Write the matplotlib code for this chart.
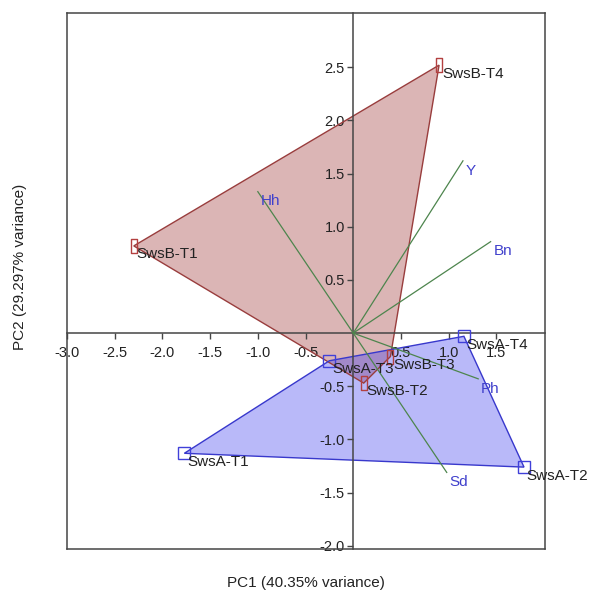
import matplotlib
matplotlib.use("Agg")
import matplotlib.pyplot as plt
import numpy as np
from matplotlib.path import Path
from matplotlib.ticker import FormatStrFormatter

plt.rcParams['font.family'] = ['Liberation Sans', 'DejaVu Sans']
plt.rcParams['axes.unicode_minus'] = False

# ---- data ----
groupB_names = ["SwsB-T1", "SwsB-T2", "SwsB-T3", "SwsB-T4"]
groupB_pc1 = [-2.30, 0.11, 0.39, 0.90]
groupB_pc2 = [0.82, -0.47, -0.22, 2.52]

groupA_names = ["SwsA-T1", "SwsA-T2", "SwsA-T3", "SwsA-T4"]
groupA_pc1 = [-1.77, 1.79, -0.25, 1.16]
groupA_pc2 = [-1.13, -1.26, -0.26, -0.03]

load_names = ["Hh", "Y", "Bn", "Ph", "Sd"]
load_pc1 = [-1.00, 1.15, 1.44, 1.31, 0.98]
load_pc2 = [1.33, 1.62, 0.86, -0.43, -1.31]

xtick_vals = [-3.0, -2.5, -2.0, -1.5, -1.0, -0.5, 0.5, 1.0, 1.5]
ytick_vals = [-2.0, -1.5, -1.0, -0.5, 0.5, 1.0, 1.5, 2.0, 2.5]
xlabel = "PC1 (40.35% variance)"
ylabel = "PC2 (29.297% variance)"


def hull(xs, ys):
    pts = sorted(zip(xs, ys))
    def cross(o, a, b):
        return (a[0]-o[0])*(b[1]-o[1]) - (a[1]-o[1])*(b[0]-o[0])
    lower, upper = [], []
    for p in pts:
        while len(lower) >= 2 and cross(lower[-2], lower[-1], p) <= 0:
            lower.pop()
        lower.append(p)
    for p in reversed(pts):
        while len(upper) >= 2 and cross(upper[-2], upper[-1], p) <= 0:
            upper.pop()
        upper.append(p)
    return np.array(lower[:-1] + upper[:-1])


fig = plt.figure(figsize=(5.89, 5.95), dpi=100)
ax = fig.add_axes([67/589, 1-549/595, (545-67)/589, (549-13)/595])
ax.set_xlim(-3.0, 2.01)
ax.set_ylim(-2.03, 3.01)

red_face = (0.63, 0.24, 0.24)
red_edge = (0.60, 0.24, 0.24)
blue_face = (0.24, 0.24, 0.94)
blue_edge = (0.22, 0.22, 0.80)

hb = hull(groupB_pc1, groupB_pc2)
ax.fill(hb[:, 0], hb[:, 1], facecolor=red_face, alpha=0.38, edgecolor='none', zorder=1)
ax.fill(hb[:, 0], hb[:, 1], facecolor='none', edgecolor=red_edge, lw=1.0, zorder=2)
ha_ = hull(groupA_pc1, groupA_pc2)
ax.fill(ha_[:, 0], ha_[:, 1], facecolor=blue_face, alpha=0.36, edgecolor='none', zorder=1)
ax.fill(ha_[:, 0], ha_[:, 1], facecolor='none', edgecolor=blue_edge, lw=1.0, zorder=2)

# loadings
for n, x, y in zip(load_names, load_pc1, load_pc2):
    ax.plot([0, x], [0, y], color=(0.30, 0.52, 0.30), lw=0.9, zorder=3)
    ax.annotate(n, (x, y), xytext=(2, -2), textcoords='offset points',
                ha='left', va='top', color=(0.25, 0.25, 0.80), fontsize=11, zorder=5)

# markers
rect_marker = Path([(-0.25, -0.5), (0.25, -0.5), (0.25, 0.5), (-0.25, 0.5), (-0.25, -0.5)],
                   [Path.MOVETO, Path.LINETO, Path.LINETO, Path.LINETO, Path.CLOSEPOLY])
ax.plot(groupB_pc1, groupB_pc2, linestyle='none', marker=rect_marker, markersize=9.5,
        markerfacecolor='none', markeredgecolor=(0.70, 0.25, 0.25), markeredgewidth=1.0, zorder=4)
ax.plot(groupA_pc1, groupA_pc2, linestyle='none', marker='s', markersize=8.5,
        markerfacecolor='none', markeredgecolor=(0.25, 0.25, 0.85), markeredgewidth=1.0, zorder=4)

for names, xs, ys in [(groupB_names, groupB_pc1, groupB_pc2), (groupA_names, groupA_pc1, groupA_pc2)]:
    for n, x, y in zip(names, xs, ys):
        ax.annotate(n, (x, y), xytext=(2, -1), textcoords='offset points',
                    ha='left', va='top', color='#222222', fontsize=11, zorder=6)

# axes through origin
axis_col = (0.27, 0.27, 0.27)
for side in ['left', 'bottom']:
    ax.spines[side].set_position(('data', 0))
    ax.spines[side].set_color(axis_col)
    ax.spines[side].set_linewidth(1.1)
    ax.spines[side].set_zorder(2.5)
for side in ['top', 'right']:
    ax.spines[side].set_color(axis_col)
    ax.spines[side].set_linewidth(1.1)
# left and bottom frame edges
ax.plot([0, 0], [0, 1], transform=ax.transAxes, color=axis_col, lw=1.1, clip_on=False, zorder=2.5)
ax.plot([0, 1], [0, 0], transform=ax.transAxes, color=axis_col, lw=1.1, clip_on=False, zorder=2.5)

ax.set_xticks(xtick_vals)
ax.set_yticks(ytick_vals)
ax.xaxis.set_major_formatter(FormatStrFormatter('%.1f'))
ax.yaxis.set_major_formatter(FormatStrFormatter('%.1f'))
ax.tick_params(axis='both', direction='out', length=4, width=1, color=axis_col,
               labelsize=10.5, labelcolor='#222222')
ax.tick_params(axis='x', pad=5)
ax.tick_params(axis='y', pad=2)
ax.xaxis.set_ticks_position('bottom')
ax.yaxis.set_ticks_position('left')

fig.text(306/589, 1-583/595, xlabel, ha='center', va='center', fontsize=11, color='#222222')
fig.text(20/589, 1-267/595, ylabel, ha='center', va='center', rotation=90, fontsize=11, color='#222222')

fig.savefig("out.png", dpi=100)
